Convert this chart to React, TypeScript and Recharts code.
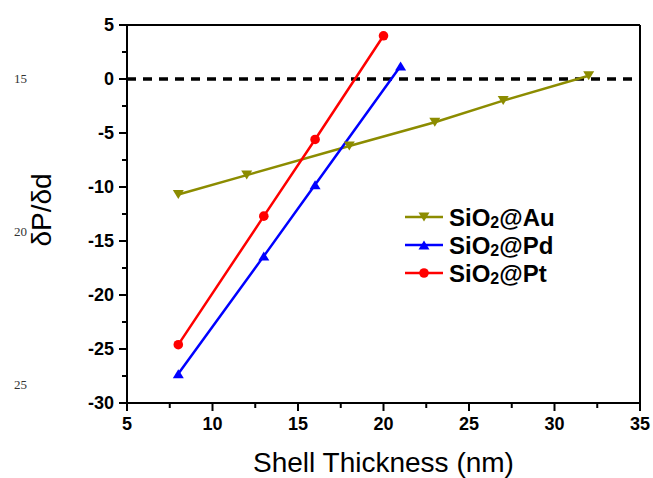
import React from 'react';
import { LineChart, Line, XAxis, YAxis, ReferenceLine, Legend } from 'recharts';

// Shell thickness (nm) and slope dP/dd for each core–shell particle
const auThickness = [8, 12, 18, 23, 27, 32];
const auSlope = [-10.7, -8.9, -6.2, -4.0, -2.0, 0.3];
const pdThickness = [8, 13, 16, 21];
const pdSlope = [-27.3, -16.4, -9.8, 1.2];
const ptThickness = [8, 13, 16, 20];
const ptSlope = [-24.6, -12.7, -5.6, 4.0];

// Axis ticks (majors every 5, minors in between)
const xTicks = [5, 7.5, 10, 12.5, 15, 17.5, 20, 22.5, 25, 27.5, 30, 32.5, 35];
const yTicks = [-30, -27.5, -25, -22.5, -20, -17.5, -15, -12.5, -10, -7.5, -5, -2.5, 0, 2.5, 5];

// Margin line numbers of the page
const lineNumbers = ['15', '20', '25'];
const lineNumberTops = [79, 232, 385];

const FONT = '"Liberation Sans", Arial, sans-serif';
const TICK_SIZE = 8;
const Y_TICK_MARGIN = 5;
const X_TICK_MARGIN = 6;
const WIDTH = 653;
const HEIGHT = 478;

const toPoints = (xs: number[], ys: number[]) => xs.map((x, i) => ({ x, y: ys[i] }));

type Marker = 'down' | 'up' | 'circle';
const series: { name: string; metal: string; color: string; marker: Marker; data: { x: number; y: number }[] }[] = [
  { name: 'SiO2@Au', metal: 'Au', color: '#8c8c00', marker: 'down', data: toPoints(auThickness, auSlope) },
  { name: 'SiO2@Pd', metal: 'Pd', color: '#0000ff', marker: 'up', data: toPoints(pdThickness, pdSlope) },
  { name: 'SiO2@Pt', metal: 'Pt', color: '#ff0000', marker: 'circle', data: toPoints(ptThickness, ptSlope) },
];

const MarkerShape = ({ cx, cy, color, marker }: { cx: number; cy: number; color: string; marker: Marker }) => {
  if (cx == null || cy == null) return null;
  if (marker === 'circle') return <circle cx={cx} cy={cy} r={4.8} fill={color} />;
  const w = 5.5;
  const h = 9;
  const pts =
    marker === 'down'
      ? `${cx - w},${cy - h / 2} ${cx + w},${cy - h / 2} ${cx},${cy + h / 2}`
      : `${cx - w},${cy + h / 2} ${cx + w},${cy + h / 2} ${cx},${cy - h / 2}`;
  return <polygon points={pts} fill={color} />;
};

const YTick = (props: any) => {
  const { x, y, payload } = props;
  const axisX = x + TICK_SIZE + Y_TICK_MARGIN;
  const major = payload.value % 5 === 0;
  return (
    <g>
      <line x1={axisX} x2={axisX - (major ? 8 : 5)} y1={y} y2={y} stroke="#000" strokeWidth={2} />
      {major && (
        <text x={x} y={y} dy="0.36em" textAnchor="end" fontFamily={FONT} fontWeight="bold" fontSize={18} fill="#000">
          {payload.value}
        </text>
      )}
    </g>
  );
};

const XTick = (props: any) => {
  const { x, y, payload } = props;
  const axisY = y - TICK_SIZE - X_TICK_MARGIN;
  const major = payload.value % 5 === 0;
  return (
    <g>
      <line x1={x} x2={x} y1={axisY} y2={axisY + (major ? 8 : 5)} stroke="#000" strokeWidth={2} />
      {major && (
        <text x={x} y={y} dy="0.72em" textAnchor="middle" fontFamily={FONT} fontWeight="bold" fontSize={18} fill="#000">
          {payload.value}
        </text>
      )}
    </g>
  );
};

const XTitle = (props: any) => {
  const { viewBox } = props;
  return (
    <text x={viewBox.x + viewBox.width / 2} y={viewBox.y + 69} textAnchor="middle" fontFamily={FONT} fontSize={28} fill="#000">
      Shell Thickness (nm)
    </text>
  );
};

const YTitle = (props: any) => {
  const { viewBox } = props;
  const x = viewBox.x - 16;
  const y = viewBox.y + viewBox.height / 2 - 4;
  return (
    <text x={x} y={y} transform={`rotate(-90, ${x}, ${y})`} textAnchor="middle" fontFamily={FONT} fontSize={28} fill="#000">
      δP/δd
    </text>
  );
};

const LegendBox = () => (
  <svg width={190} height={90} style={{ display: 'block' }}>
    {series.map((s, i) => {
      const cy = 14 + i * 28;
      return (
        <g key={s.name}>
          <line x1={5} x2={43} y1={cy} y2={cy} stroke={s.color} strokeWidth={2.5} />
          <MarkerShape cx={24} cy={cy} color={s.color} marker={s.marker} />
          <text x={49} y={cy} dy="0.36em" fontFamily={FONT} fontWeight="bold" fontSize={24} fill="#000">
            SiO
            <tspan fontSize={16} dy={2}>2</tspan>
            <tspan dy={-2}>@{s.metal}</tspan>
          </text>
        </g>
      );
    })}
  </svg>
);

export default function App() {
  return (
    <div
      style={{
        position: 'fixed',
        left: 0,
        top: 0,
        width: WIDTH,
        height: HEIGHT,
        overflow: 'hidden',
        background: '#fff',
      }}
    >
      {lineNumbers.map((n, i) => (
        <div
          key={n}
          style={{
            position: 'absolute',
            left: 14,
            top: lineNumberTops[i] - 8,
            fontFamily: '"Liberation Serif", "Times New Roman", serif',
            fontSize: 13,
            color: '#333',
            lineHeight: '16px',
          }}
        >
          {n}
        </div>
      ))}
      <LineChart width={WIDTH} height={HEIGHT} margin={{ top: 25, right: 13, bottom: 45, left: 67 }}>
        <XAxis
          type="number"
          dataKey="x"
          domain={[5, 35]}
          ticks={xTicks}
          interval={0}
          allowDataOverflow
          height={30}
          tickSize={TICK_SIZE}
          tickMargin={X_TICK_MARGIN}
          tickLine={false}
          tick={<XTick />}
          axisLine={{ stroke: '#000', strokeWidth: 2 }}
          label={<XTitle />}
        />
        <YAxis
          type="number"
          dataKey="y"
          domain={[-30, 5]}
          ticks={yTicks}
          interval={0}
          allowDataOverflow
          width={60}
          tickSize={TICK_SIZE}
          tickMargin={Y_TICK_MARGIN}
          tickLine={false}
          tick={<YTick />}
          axisLine={{ stroke: '#000', strokeWidth: 2 }}
          label={<YTitle />}
        />
        <ReferenceLine y={5} stroke="#000" strokeWidth={2} />
        <ReferenceLine x={35} stroke="#000" strokeWidth={2} />
        <ReferenceLine y={0} stroke="#000" strokeWidth={3.5} strokeDasharray="9 7" />
        {series.map((s) => (
          <Line
            key={s.name}
            name={s.name}
            data={s.data}
            dataKey="y"
            type="linear"
            stroke={s.color}
            strokeWidth={2.5}
            dot={(p: any) => <MarkerShape key={`${s.name}-${p.index}`} cx={p.cx} cy={p.cy} color={s.color} marker={s.marker} />}
            activeDot={false}
            isAnimationActive={false}
          />
        ))}
        <Legend
          layout="horizontal"
          align="center"
          verticalAlign="middle"
          content={<LegendBox />}
          wrapperStyle={{ left: 400, top: 203, width: 190, height: 90 }}
        />
      </LineChart>
    </div>
  );
}
